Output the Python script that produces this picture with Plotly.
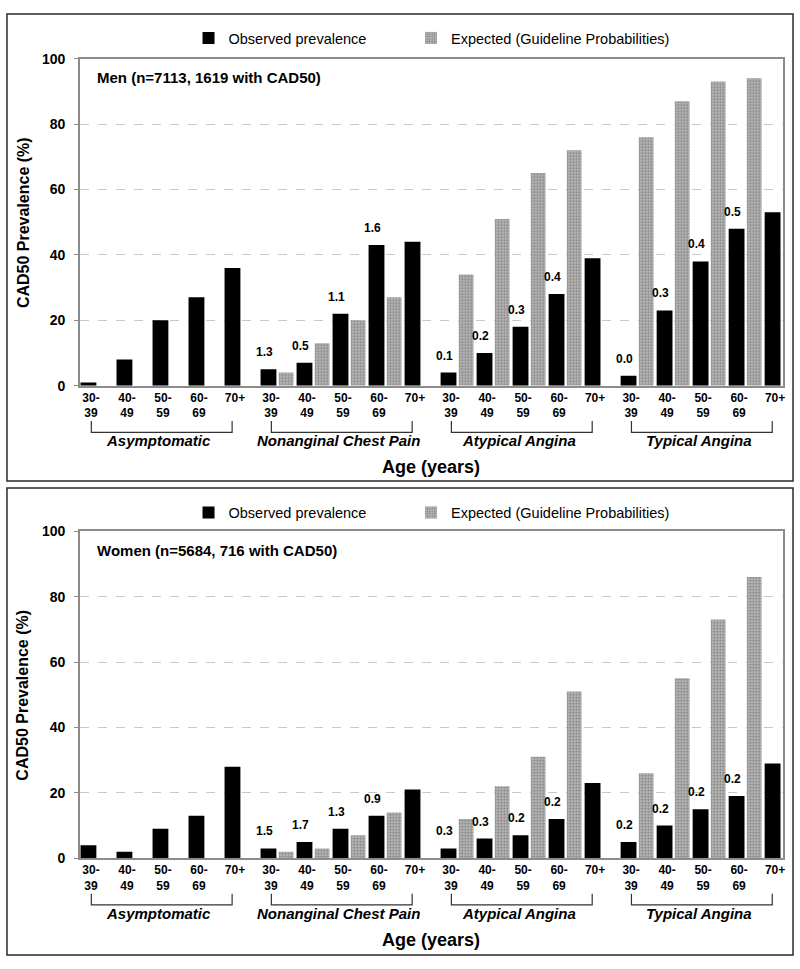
import plotly.graph_objects as go

W, H = 800, 969

# ---------------- data ----------------
categories = ["Asymptomatic", "Nonanginal Chest Pain", "Atypical Angina", "Typical Angina"]
age_groups = ["30-<br>39", "40-<br>49", "50-<br>59", "60-<br>69", "70+"]

men_title = "Men (n=7113, 1619 with CAD50)"
men_observed = [1, 8, 20, 27, 36,
                5, 7, 22, 43, 44,
                4, 10, 18, 28, 39,
                3, 23, 38, 48, 53]
men_expected = [None, None, None, None, None,
                4, 13, 20, 27, None,
                34, 51, 65, 72, None,
                76, 87, 93, 94, None]
men_labels = ["", "", "", "", "",
              "1.3", "0.5", "1.1", "1.6", "",
              "0.1", "0.2", "0.3", "0.4", "",
              "0.0", "0.3", "0.4", "0.5", ""]

women_title = "Women (n=5684, 716 with CAD50)"
women_observed = [4, 2, 9, 13, 28,
                  3, 5, 9, 13, 21,
                  3, 6, 7, 12, 23,
                  5, 10, 15, 19, 29]
women_expected = [None, None, None, None, None,
                  2, 3, 7, 14, None,
                  12, 22, 31, 51, None,
                  26, 55, 73, 86, None]
women_labels = ["", "", "", "", "",
                "1.5", "1.7", "1.3", "0.9", "",
                "0.3", "0.3", "0.2", "0.2", "",
                "0.2", "0.2", "0.2", "0.2", ""]

y_ticks = [0, 20, 40, 60, 80, 100]
series_names = ["Observed prevalence", "Expected (Guideline Probabilities)"]
x_title = "Age (years)"
y_title = "CAD50 Prevalence (%)"

# ---------------- helpers ----------------
FONT = "Liberation Sans, Arial, Helvetica, sans-serif"


def pxx(x):
    return x / W


def pyy(y):
    return 1 - y / H


n_slots = len(categories) * len(age_groups)
slots = list(range(n_slots))
ticktext = age_groups * len(categories)

panels = [
    dict(obs=men_observed, exp=men_expected, lab=men_labels, title=men_title,
         off=0, legs=("legend", "legend2"), box=(6, 481)),
    dict(obs=women_observed, exp=women_expected, lab=women_labels, title=women_title,
         off=480.5, legs=("legend3", "legend4"), box=(488, 963)),
]

fig = go.Figure()
shapes = []
annotations = []
layout_axes = {}

for k, p in enumerate(panels):
    off = p["off"]
    xa = "x" if k == 0 else "x2"
    ya = "y" if k == 0 else "y2"
    xname = "xaxis" if k == 0 else "xaxis2"
    yname = "yaxis" if k == 0 else "yaxis2"

    fig.add_trace(go.Bar(
        x=[i + 0.24 for i in slots], y=p["obs"], width=0.44,
        marker=dict(color="black", line=dict(width=0)),
        name=series_names[0], xaxis=xa, yaxis=ya, legend=p["legs"][0],
        hoverinfo="y"))
    fig.add_trace(go.Bar(
        x=[i + 0.73 for i in slots], y=p["exp"], width=0.41,
        marker=dict(color="#a8a8a8", line=dict(width=0),
                    pattern=dict(shape=".", fgcolor="#4a4a4a", bgcolor="#c4c4c4",
                                 size=3, solidity=0.5)),
        name=series_names[1], xaxis=xa, yaxis=ya, legend=p["legs"][1],
        hoverinfo="y"))

    top, bottom = 51.5 + off, 384 + off
    layout_axes[xname] = dict(
        domain=[pxx(80), pxx(785)], range=[0, 19.53], anchor=ya,
        tickmode="array", tickvals=[i + 0.31 for i in slots], ticktext=ticktext,
        tickfont=dict(family=FONT, size=12, color="black", weight="bold"),
        showgrid=False, zeroline=False, showline=True, mirror=True,
        linecolor="#8c8c8c", linewidth=1.5, ticks="", ticklabelstandoff=0,
        fixedrange=True)
    layout_axes[yname] = dict(
        domain=[pyy(bottom), pyy(top)], range=[0, 100], anchor=xa,
        tickmode="array", tickvals=y_ticks,
        tickfont=dict(family=FONT, size=14, color="black", weight="bold"),
        showgrid=True, gridcolor="#c8c8c8", griddash="dash", gridwidth=1,
        zeroline=False, showline=True, mirror=True, linecolor="#8c8c8c", linewidth=1.5,
        ticks="outside", ticklen=4, tickcolor="#8c8c8c", ticklabelstandoff=6,
        fixedrange=True)

    # outer frame
    b0, b1 = p["box"]
    shapes.append(dict(type="rect", xref="paper", yref="paper",
                       x0=pxx(7), x1=pxx(795), y0=pyy(b1), y1=pyy(b0),
                       line=dict(color="#2a2a2a", width=1.5), fillcolor="rgba(0,0,0,0)",
                       layer="below"))

    # brackets and category labels
    for c, cat in enumerate(categories):
        x0 = c * 5 + 0.32
        x1 = c * 5 + 4 + 0.23
        yt, yb = pyy(420 + off), pyy(431.5 + off)
        shapes.append(dict(type="path", xref=xa, yref="paper",
                           path=f"M {x0},{yt} L {x0},{yb} L {x1},{yb} L {x1},{yt}",
                           line=dict(color="#333333", width=1.2)))
        annotations.append(dict(
            xref=xa, yref="paper", x=(x0 + x1) / 2 - 0.08, y=pyy(440 + off),
            text=cat, showarrow=False, xanchor="center", yanchor="middle",
            font=dict(family=FONT, size=15, color="black", weight="bold", style="italic")))

    # x title
    annotations.append(dict(
        xref="paper", yref="paper", x=pxx(432.5), y=pyy(467 + off), text=x_title,
        showarrow=False, xanchor="center", yanchor="middle",
        font=dict(family=FONT, size=18, color="black", weight="bold")))
    # y title
    annotations.append(dict(
        xref="paper", yref="paper", x=pxx(23), y=pyy((top + bottom) / 2), text=y_title,
        showarrow=False, xanchor="center", yanchor="middle", textangle=-90,
        font=dict(family=FONT, size=16, color="black", weight="bold")))
    # panel title
    annotations.append(dict(
        xref="paper", yref="paper", x=pxx(95), y=pyy(71 + off), text=p["title"],
        showarrow=False, xanchor="left", yanchor="middle",
        font=dict(family=FONT, size=15, color="black", weight="bold")))
    # bar labels
    for i in slots:
        if p["lab"][i]:
            annotations.append(dict(
                xref=xa, yref=ya, x=i + 0.14, y=p["obs"][i], yshift=17,
                text=p["lab"][i], showarrow=False, xanchor="center", yanchor="middle",
                font=dict(family=FONT, size=12, color="black", weight="bold")))

leg_common = dict(orientation="h", xanchor="left", yanchor="middle",
                  bgcolor="rgba(0,0,0,0)", borderwidth=0,
                  font=dict(family=FONT, size=14.5, color="black"))

fig.update_layout(
    width=W, height=H, autosize=False,
    margin=dict(l=0, r=0, t=0, b=0),
    paper_bgcolor="white", plot_bgcolor="white",
    barmode="overlay", showlegend=True,
    legend=dict(x=pxx(189), y=pyy(30.5), **leg_common),
    legend2=dict(x=pxx(412), y=pyy(30.5), **leg_common),
    legend3=dict(x=pxx(189), y=pyy(513), **leg_common),
    legend4=dict(x=pxx(412), y=pyy(513), **leg_common),
    shapes=shapes, annotations=annotations,
    **layout_axes,
)

fig.write_html("out.html",
               config={"displayModeBar": False},
               post_script="document.body.style.margin='0';document.body.style.overflow='hidden';")
